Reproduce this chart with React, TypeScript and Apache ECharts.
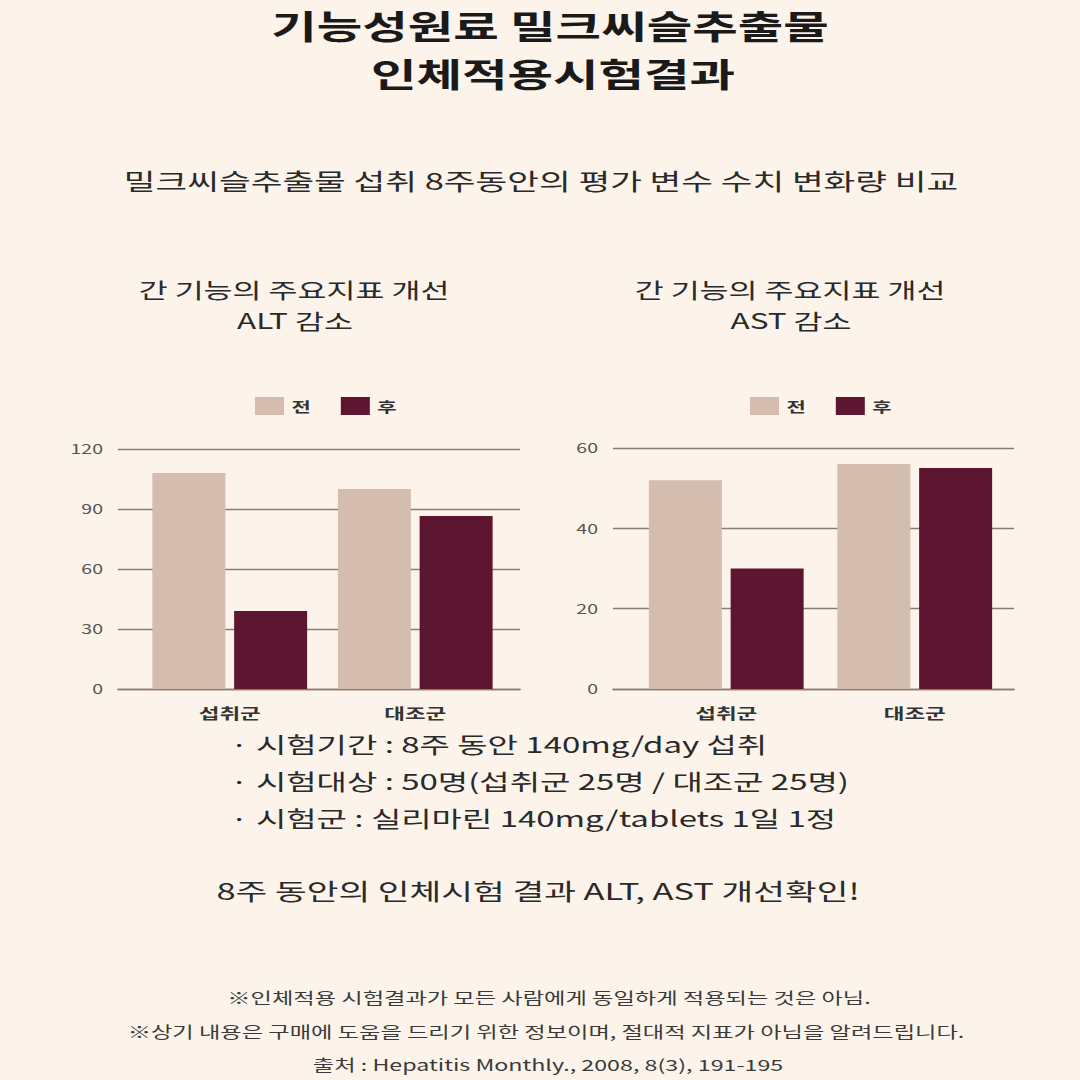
import React, { useEffect, useRef } from "react";
import * as echarts from "echarts";

const categories = ["섭취군", "대조군"];
const seriesNames = ["전", "후"];
const altBefore = [108, 100];
const altAfter = [39, 86.5];
const astBefore = [52, 56];
const astAfter = [30, 55];
const altTicks = { min: 0, max: 120, interval: 30 };
const astTicks = { min: 0, max: 60, interval: 20 };

const mainTitle1 = "기능성원료 밀크씨슬추출물";
const mainTitle2 = "인체적용시험결과";
const subTitle = "밀크씨슬추출물 섭취 8주동안의 평가 변수 수치 변화량 비교";
const chartTitleA = ["간 기능의 주요지표 개선", "ALT 감소"];
const chartTitleB = ["간 기능의 주요지표 개선", "AST 감소"];
const bullets = [
  "· 시험기간 : 8주 동안 140mg/day 섭취",
  "· 시험대상 : 50명(섭취군 25명 / 대조군 25명)",
  "· 시험군 : 실리마린 140mg/tablets 1일 1정",
];
const conclusion = "8주 동안의 인체시험 결과 ALT, AST 개선확인!";
const footnotes = [
  "※인체적용 시험결과가 모든 사람에게 동일하게 적용되는 것은 아님.",
  "※상기 내용은 구매에 도움을 드리기 위한 정보이며, 절대적 지표가 아님을 알려드립니다.",
  "출처 : Hepatitis Monthly., 2008, 8(3), 191-195",
];

const FONT = '"Noto Sans CJK KR", "Noto Sans", sans-serif';
const C_BEFORE = "#d4bcae";
const C_AFTER = "#5e1530";
const GRID_LINE = "#8c7b70";
const SX = 1.5; // the reference is drawn with a wide typeface; the canvas is stretched horizontally

export default function App() {
  const ref = useRef<HTMLDivElement>(null);
  useEffect(() => {
    if (!ref.current) return;
    const chart = echarts.init(ref.current, null, { renderer: "svg" });
    const X = (v: number) => v / SX;
    const textEl = (text: string, x: number, y: number, size: number, weight: any, color: string, align = "center") => ({
      type: "text",
      x: X(x),
      y,
      style: {
        text,
        fontSize: size,
        fontWeight: weight,
        fill: color,
        fontFamily: FONT,
        align,
        verticalAlign: "middle",
      },
    });
    const lineY = {
      type: "value",
      axisLine: { show: false },
      axisTick: { show: false },
      axisLabel: { color: "#555", fontSize: 13, fontFamily: FONT, margin: 10 },
      splitLine: { lineStyle: { color: GRID_LINE, width: 1.3 } },
    };
    const barY = {
      type: "value",
      show: false,
      splitLine: { show: false },
    };
    const barX = {
      type: "category",
      data: categories,
      axisLine: { show: false },
      axisTick: { show: false },
      axisLabel: { color: "#333", fontSize: 15, fontWeight: "bold", fontFamily: FONT, margin: 16 },
    };
    const lineX = {
      type: "category",
      data: categories,
      axisLine: { show: true, lineStyle: { color: GRID_LINE, width: 1.3 } },
      axisTick: { show: false },
      axisLabel: { show: false },
    };
    const legendCommon = {
      data: seriesNames,
      top: 392,
      padding: 5,
      itemWidth: X(29),
      itemHeight: 18,
      itemGap: 20,
      icon: "rect",
      textStyle: { fontSize: 14, fontWeight: "bold", color: "#333", fontFamily: FONT },
    };
    const barCommon = { type: "bar", barWidth: X(73), barGap: "12%" };
    chart.setOption({
      animation: false,
      backgroundColor: "#fcf4ea",
      grid: [
        { left: X(137), width: X(371), top: 449, height: 240 },
        { left: X(632), width: X(377), top: 448, height: 241 },
        { left: X(118), width: X(402), top: 449, height: 240 },
        { left: X(613), width: X(401), top: 448, height: 241 },
      ],
      legend: [
        { ...legendCommon, left: X(255) - 5 },
        { ...legendCommon, left: X(750) - 5 },
      ],
      xAxis: [
        { ...barX, gridIndex: 0 },
        { ...barX, gridIndex: 1 },
        { ...lineX, gridIndex: 2 },
        { ...lineX, gridIndex: 3 },
      ],
      yAxis: [
        { ...barY, gridIndex: 0, ...altTicks },
        { ...barY, gridIndex: 1, ...astTicks },
        { ...lineY, gridIndex: 2, ...altTicks },
        { ...lineY, gridIndex: 3, ...astTicks },
      ],
      series: [
        { ...barCommon, name: seriesNames[0], xAxisIndex: 0, yAxisIndex: 0, data: altBefore, itemStyle: { color: C_BEFORE } },
        { ...barCommon, name: seriesNames[1], xAxisIndex: 0, yAxisIndex: 0, data: altAfter, itemStyle: { color: C_AFTER } },
        { ...barCommon, name: seriesNames[0], xAxisIndex: 1, yAxisIndex: 1, data: astBefore, itemStyle: { color: C_BEFORE } },
        { ...barCommon, name: seriesNames[1], xAxisIndex: 1, yAxisIndex: 1, data: astAfter, itemStyle: { color: C_AFTER } },
      ],
      graphic: [
        textEl(mainTitle1, 550, 24, 33, "bold", "#1a1a1a"),
        textEl(mainTitle2, 553, 72, 33, "bold", "#1a1a1a"),
        textEl(subTitle, 541, 180, 23, "normal", "#2a2a2a"),
        textEl(chartTitleA[0], 294, 289, 21, "normal", "#2a2a2a"),
        textEl(chartTitleA[1], 295, 320, 21, "normal", "#2a2a2a"),
        textEl(chartTitleB[0], 790, 289, 21, "normal", "#2a2a2a"),
        textEl(chartTitleB[1], 791, 320, 21, "normal", "#2a2a2a"),
        textEl(bullets[0], 230, 743, 22, "normal", "#2a2a2a", "left"),
        textEl(bullets[1], 230, 780, 22, "normal", "#2a2a2a", "left"),
        textEl(bullets[2], 230, 817, 22, "normal", "#2a2a2a", "left"),
        textEl(conclusion, 538, 890, 23, "normal", "#2a2a2a"),
        textEl(footnotes[0], 549, 997, 15.5, "normal", "#3a3a3a"),
        textEl(footnotes[1], 546, 1031, 15.5, "normal", "#3a3a3a"),
        textEl(footnotes[2], 548, 1064, 15.5, "normal", "#3a3a3a"),
      ],
    });
    return () => chart.dispose();
  }, []);
  return (
    <div
      ref={ref}
      style={{
        position: "fixed",
        left: 0,
        top: 0,
        width: 1080 / SX,
        height: 1080,
        transform: `scaleX(${SX})`,
        transformOrigin: "0 0",
      }}
    />
  );
}
